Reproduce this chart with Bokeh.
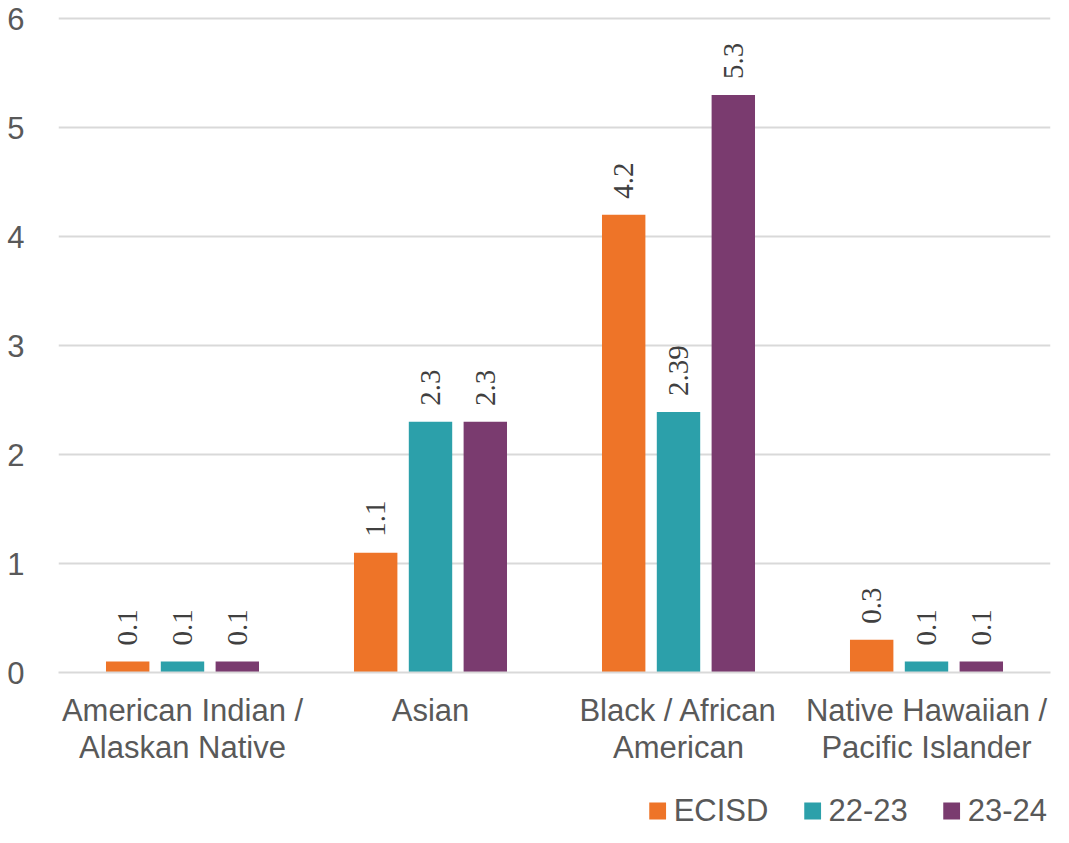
import math
from bokeh.plotting import figure
from bokeh.layouts import column
from bokeh.models import (ColumnDataSource, FactorRange, Range1d, LabelSet, Legend,
                          LegendItem, SingleIntervalTicker)
from bokeh.core.properties import value
from bokeh.transform import dodge
from bokeh.embed import file_html
from bokeh.resources import INLINE

categories = ["American Indian /\nAlaskan Native", "Asian",
              "Black / African\nAmerican", "Native Hawaiian /\nPacific Islander"]
series_names = ["ECISD", "22-23", "23-24"]
ecisd = [0.1, 1.1, 4.2, 0.3]
y2223 = [0.1, 2.3, 2.39, 0.1]
y2324 = [0.1, 2.3, 5.3, 0.1]
colors = ["#EE7428", "#2CA0AA", "#7A3B6F"]

src = ColumnDataSource(dict(
    cat=categories, ecisd=ecisd, y2223=y2223, y2324=y2324,
    l_ecisd=[str(v) for v in ecisd], l_y2223=[str(v) for v in y2223],
    l_y2324=[str(v) for v in y2324],
))

W = 1053
FONT = "Liberation Sans"
FS = "31px"
GREY = "#595959"

p = figure(x_range=FactorRange(*categories), y_range=Range1d(0, 6.02),
           width=W, height=794, output_backend="svg", toolbar_location=None,
           min_border_left=58, min_border_right=3, min_border_top=16, min_border_bottom=122)
p.outline_line_color = None
p.background_fill_color = "white"

fields = ["ecisd", "y2223", "y2324"]
offsets = [-0.221, 0.0, 0.221]
for f, off, c in zip(fields, offsets, colors):
    p.vbar(x=dodge("cat", off, range=p.x_range), top=f, width=0.175, source=src,
           fill_color=c, line_color=None)
    labels = LabelSet(x=dodge("cat", off, range=p.x_range), y=f, text="l_" + f, source=src,
                      angle=math.pi / 2, text_align="left", text_baseline="middle",
                      y_offset=16, text_font=value("Times"),
                      text_font_size=value("29px"), text_color="#404040")
    p.add_layout(labels)

p.yaxis.ticker = SingleIntervalTicker(interval=1)
p.yaxis.axis_line_color = None
p.yaxis.major_tick_line_color = None
p.yaxis.minor_tick_line_color = None
p.yaxis.major_label_standoff = 28
p.yaxis.major_label_text_font = FONT
p.yaxis.major_label_text_font_size = FS
p.yaxis.major_label_text_color = GREY

p.xaxis.axis_line_color = "#D9D9D9"
p.xaxis.axis_line_width = 2
p.xaxis.major_tick_line_color = None
p.xaxis.minor_tick_line_color = None
p.xaxis.major_label_standoff = 14
p.xaxis.major_label_text_font = FONT
p.xaxis.major_label_text_font_size = FS
p.xaxis.major_label_text_color = GREY
p.xaxis.major_label_text_line_height = 1.08

p.xgrid.grid_line_color = None
p.ygrid.grid_line_color = "#D9D9D9"
p.ygrid.grid_line_width = 2

# legend strip below the chart (same bars, drawn out of view, serve as legend keys)
p2 = figure(width=W, height=33, output_backend="svg", toolbar_location=None,
            x_range=p.x_range, y_range=Range1d(10, 11), min_border=0,
            x_axis_location=None, y_axis_location=None)
p2.outline_line_color = None
p2.grid.grid_line_color = None
leg_renderers = [p2.vbar(x=dodge("cat", off, range=p2.x_range), top=f, width=0.175,
                         source=src, fill_color=c, line_color=None)
                 for f, off, c in zip(fields, offsets, colors)]
legend = Legend(items=[LegendItem(label=n, renderers=[r])
                       for n, r in zip(series_names, leg_renderers)],
                orientation="horizontal", location="center_right",
                glyph_width=21, glyph_height=21, label_standoff=6, spacing=33,
                label_text_font=FONT, label_text_font_size=FS,
                label_text_color=GREY, border_line_color=None, padding=0, margin=3,
                background_fill_alpha=0)
p2.add_layout(legend, "center")

open("out.html", "w").write(file_html(column(p, p2), INLINE))
